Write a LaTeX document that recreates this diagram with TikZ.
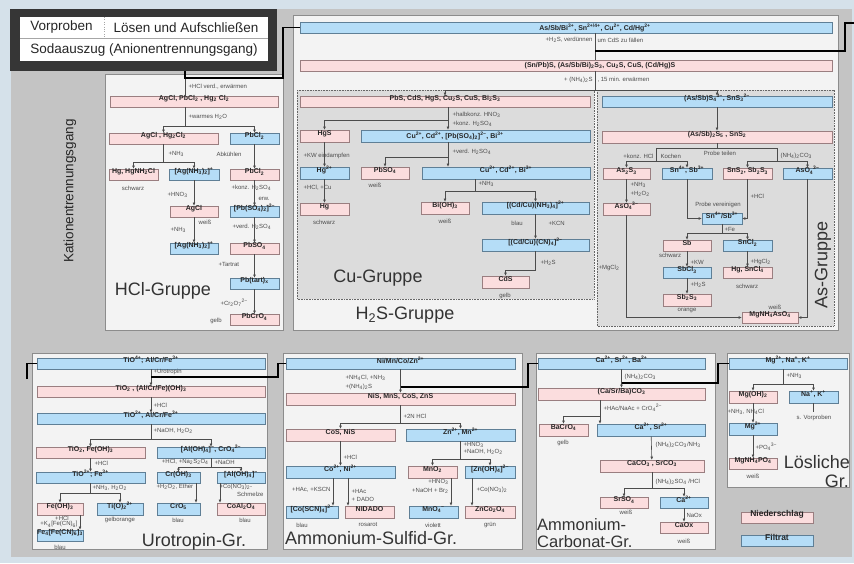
\documentclass[tikz,border=0pt]{standalone}
\usepackage{fontspec}
\setmainfont{Liberation Sans}
\usepackage{tikz}
\usetikzlibrary{arrows.meta,fit}

\definecolor{hgblau}{HTML}{D5E1EA}
\definecolor{grau}{HTML}{C4C4C4}
\definecolor{dunkel}{HTML}{363636}
\definecolor{tafelw}{HTML}{F3F3F3}
\definecolor{innenw}{HTML}{DCDCDC}
\definecolor{nsfill}{HTML}{FBDDDE}
\definecolor{nsrand}{HTML}{9A7E80}
\definecolor{fifill}{HTML}{B5DDF7}
\definecolor{firand}{HTML}{5F7F96}

\newcommand{\tief}[1]{\textsubscript{#1}}
\newcommand{\hoch}[1]{\textsuperscript{#1}}

\tikzset{
  fett/.style={font=\fontsize{7}{8}\selectfont\bfseries, text=black!85},
  kasten/.style={fett, inner sep=0pt, line width=0.8pt},
  ns/.style={kasten, draw=nsrand, fill=nsfill},
  fi/.style={kasten, draw=firand, fill=fifill},
  lbl/.style={font=\fontsize{6}{7}\selectfont, text=black!70, inner sep=0.3pt},
  gross/.style={font=\fontsize{18}{20}\selectfont, text=black!80, inner sep=0pt},
  kopf/.style={font=\fontsize{13.5}{15}\selectfont, text=black!85, inner sep=0pt},
  pf/.style={->, draw=black!70, line width=0.6pt},
  ln/.style={draw=black!70, line width=0.6pt},
  verb/.style={draw=black, line width=1.5pt},
  tafel/.style={draw=black!45, fill=tafelw, line width=0.8pt},
  innen/.style={draw=black!60, fill=innenw, line width=0.6pt, dash pattern=on 0.8pt off 0.8pt}
}

\begin{document}
\begin{tikzpicture}[x=1pt,y=-1pt,>={Triangle[length=3pt,width=2.4pt]}]
  \useasboundingbox (0,0) rectangle (854,563);
  \fill[hgblau] (0,0) rectangle (854,563);
  \fill[grau] (11,9) rectangle (852,557);

  % Kopf
  \fill[dunkel] (10,9) rectangle (277,71);
  \fill[white] (20,17) rectangle (268,61);
  \draw[black!35, line width=0.6pt] (20,38) -- (268,38);
  \draw[black!35, dotted] (104,17) -- (104,38);
  \node[kopf] (vorproben) at (61.5,27.5) {Vorproben};
  \node[kopf] (loesen) at (186,27.5) {Lösen und Aufschließen};
  \node[kopf] (soda) at (144,50) {Sodaauszug (Anionentrennungsgang)};
  \node[kopf, rotate=90] (kation) at (70,191) {Kationentrennungsgang};

  % Tafeln
  \draw[tafel] (105,74) rectangle (283,330);
  \draw[tafel] (293,15) rectangle (838,330);
  \draw[innen] (297,90) rectangle (594,299);
  \draw[innen] (597,90) rectangle (834,326);
  \draw[tafel] (32,353) rectangle (267,549);
  \draw[tafel] (283,353) rectangle (522,549);
  \draw[tafel] (536,353) rectangle (715,549);
  \draw[tafel] (727,353) rectangle (849,487);

  % HCl-Gruppe
  \node[ns, fit={(110,96) (278,107)}] (hcl0) {AgCl, PbCl\tief2 , Hg\tief2 Cl\tief2};
  \node[ns, fit={(109,133) (218,144)}] (hcl1) {AgCl , Hg\tief2Cl\tief2};
  \node[fi, fit={(230,133) (279,144)}] (hcl2) {PbCl\tief2};
  \node[ns, fit={(109,169) (158,180)}] (hcl3) {Hg, HgNH\tief2Cl};
  \node[fi, fit={(169,169) (219,180)}] (hcl4) {[Ag(NH\tief3)\tief2]\hoch+};
  \node[ns, fit={(230,169) (279,180)}] (hcl5) {PbCl\tief2};
  \node[ns, fit={(170,206) (218,217)}] (hcl6) {AgCl};
  \node[fi, fit={(230,206) (279,217)}] (hcl7) {[Pb(SO\tief4)\tief2]\hoch{2−}};
  \node[fi, fit={(170,243) (218,254)}] (hcl8) {[Ag(NH\tief3)\tief2]\hoch+};
  \node[ns, fit={(230,243) (279,254)}] (hcl9) {PbSO\tief4};
  \node[fi, fit={(230,278) (279,289)}] (hcl10) {Pb(tart)\tief x};
  \node[ns, fit={(230,314) (279,325)}] (hcl11) {PbCrO\tief4};

  \node[lbl, anchor=west] (t1) at (188,87) {+HCl verd., erwärmen};
  \node[lbl, anchor=west] (t2) at (188,117) {+warmes H\tief2O};
  \node[lbl, anchor=west] (t3) at (168,154) {+NH\tief3};
  \node[lbl, anchor=west] (t4) at (216,154) {Abkühlen};
  \node[lbl] (t5) at (133,188) {schwarz};
  \node[lbl, anchor=west] (t6) at (167,195) {+HNO\tief3};
  \node[lbl, anchor=west] (t7) at (231,188) {+konz. H\tief2SO\tief4};
  \node[lbl, anchor=west] (t8) at (258,199) {erw.};
  \node[lbl] (t9) at (205,222) {weiß};
  \node[lbl, anchor=west] (t10) at (170,230) {+NH\tief3};
  \node[lbl, anchor=west] (t11) at (232,227) {+verd. H\tief2SO\tief4};
  \node[lbl, anchor=west] (t12) at (218,264) {+Tartrat};
  \node[lbl, anchor=west] (t13) at (220,303) {+Cr\tief2O\tief7\hoch{2−}};
  \node[lbl] (t14) at (216,321) {gelb};
  \node[gross] (hclgr) at (163,291) {HCl-Gruppe};

  \coordinate (kopfaus) at (185,71);
  \coordinate (k1) at (283,78);
  \draw[ln] (kopfaus) -- (hcl0.north -| kopfaus);
  \coordinate (j1) at (185,126);
  \draw[ln] (hcl0.south -| j1) -- (j1);
  \draw[pf] (j1) -| (hcl1.north);
  \draw[pf] (j1) -| (hcl2.north);
  \coordinate (j2) at (163.5,162);
  \draw[ln] (hcl1.south) -- (j2);
  \draw[pf] (j2) -| (hcl3.north);
  \draw[pf] (j2) -| (hcl4.north);
  \draw[pf] (hcl2) -- (hcl5);
  \draw[pf] (hcl4) -- (hcl6);
  \draw[pf] (hcl6) -- (hcl8);
  \draw[pf] (hcl5) -- (hcl7);
  \draw[pf] (hcl7) -- (hcl9);
  \draw[pf] (hcl9) -- (hcl10);
  \draw[pf] (hcl10) -- (hcl11);

  % H2S-Gruppe
  \node[fi, fit={(300,22) (832,33)}] (h2s0) {};
  \node[fett] (h2s0t) at (595,27.5) {As/Sb/Bi\hoch{3+}, Sn\hoch{2+/4+}, Cu\hoch{2+}, Cd/Hg\hoch{2+}};
  \node[ns, fit={(300,60) (832,71)}] (h2s1) {};
  \node[fett] (h2s1t) at (600,65.5) {(Sn/Pb)S, (As/Sb/Bi)\tief2S\tief3, Cu\tief2S, CuS, (Cd/Hg)S};
  \node[lbl, anchor=east] (t15) at (593,40) {+H\tief2S, verdünnen};
  \node[lbl, anchor=west] (t16) at (597,40) {um CdS zu fällen};
  \node[lbl, anchor=east] (t17) at (593,80) {+ (NH\tief4)\tief2S};
  \node[lbl, anchor=west] (t18) at (597,80) {, 15 min. erwärmen};
  \coordinate (k2) at (595,51);
  \coordinate (k3) at (845,51);
  \coordinate (raus) at (854,23);
  \draw[ln] (h2s0.south -| k2) -- (h2s1.north -| k2);
  \draw[verb] (k2) -- (k3) |- (raus);
  \coordinate (k4) at (595,90);
  \draw[ln] (h2s1.south -| k4) -- (k4);
  \node[gross] (h2sgr) at (405,315) {H\tief2S-Gruppe};

  % Cu-Gruppe
  \node[ns, fit={(300,96) (590,107)}] (cu0) {PbS, CdS, HgS, Cu\tief2S, CuS, Bi\tief2S\tief3};
  \node[ns, fit={(300,130) (349,142)}] (cu1) {HgS};
  \node[fi, fit={(361,130) (590,142)}] (cu2) {};
  \node[fett] (cu2t) at (455,136) {Cu\hoch{2+}, Cd\hoch{2+}, [Pb(SO\tief4)\tief2]\hoch{2−}, Bi\hoch{3+}};
  \node[fi, fit={(300,167) (349,179)}] (cu4) {Hg\hoch{2+}};
  \node[ns, fit={(361,167) (409,179)}] (cu6) {PbSO\tief4};
  \node[fi, fit={(422,167) (590,179)}] (cu3) {Cu\hoch{2+}, Cd\hoch{2+}, Bi\hoch{3+}};
  \node[ns, fit={(300,203) (349,215)}] (cu5) {Hg};
  \node[ns, fit={(421,202) (469,214)}] (cu7) {Bi(OH)\tief3};
  \node[fi, fit={(482,202) (589,214)}] (cu8) {[(Cd/Cu)(NH\tief3)\tief4]\hoch{2+}};
  \node[fi, fit={(482,239) (589,251)}] (cu9) {[(Cd/Cu)(CN)\tief4]\hoch{2−}};
  \node[ns, fit={(482,276) (529,288)}] (cu10) {CdS};

  \node[lbl, anchor=west] (t19) at (452,115) {+halbkonz. HNO\tief3};
  \node[lbl, anchor=west] (t20) at (452,124) {+konz. H\tief2SO\tief4};
  \node[lbl, anchor=west] (t21) at (303,156) {+KW eindampfen};
  \node[lbl, anchor=west] (t22) at (303,188) {+HCl, +Cu};
  \node[lbl] (t23) at (324,222) {schwarz};
  \node[lbl, anchor=west] (t24) at (452,152) {+verd. H\tief2SO\tief4};
  \node[lbl] (t25) at (375,185) {weiß};
  \node[lbl, anchor=west] (t26) at (478,184) {+NH\tief3};
  \node[lbl] (t27) at (445,221) {weiß};
  \node[lbl] (t28) at (517,223) {blau};
  \node[lbl, anchor=west] (t29) at (548,223) {+KCN};
  \node[lbl, anchor=west] (t30) at (540,263) {+H\tief2S};
  \node[lbl] (t31) at (505,296) {gelb};
  \node[gross] (cugr) at (378,278) {Cu-Gruppe};

  \coordinate (j3) at (448,120);
  \draw[ln] (cu0.south -| j3) -- (j3);
  \draw[pf] (j3) -- (cu2.north -| j3);
  \draw[pf] (j3) -| (cu1.north);
  \draw[pf] (cu1) -- (cu4);
  \draw[pf] (cu4) -- (cu5);
  \coordinate (j4) at (448,157);
  \draw[pf] (cu2.south -| j4) -- (cu3.north -| j4);
  \draw[pf] (j4) -| (cu6.north);
  \coordinate (j5) at (475,191);
  \draw[ln] (cu3.south -| j5) -- (j5);
  \draw[pf] (j5) -| (cu7.north);
  \draw[pf] (j5) -| (cu8.north);
  \draw[pf] (cu8) -- (cu9);
  \coordinate (j6) at (535.5,270);
  \draw[ln] (cu9.south) -- (j6);
  \draw[pf] (j6) -| (cu10.north);

  % As-Gruppe
  \node[fi, fit={(602,96) (832,107)}] (as0) {(As/Sb)S\tief4\hoch{3−}, SnS\tief3\hoch{2−}};
  \node[ns, fit={(602,131) (832,143)}] (as1) {(As/Sb)\tief2S\tief5 , SnS\tief2};
  \node[ns, fit={(603,168) (650,179)}] (as2) {As\tief2S\tief3};
  \node[fi, fit={(662,168) (712,179)}] (as3) {Sn\hoch{4+}, Sb\hoch{3+}};
  \node[ns, fit={(723,168) (772,179)}] (as4) {SnS\tief2, Sb\tief2S\tief3};
  \node[fi, fit={(783,168) (832,179)}] (as5) {AsO\tief4\hoch{3−}};
  \node[ns, fit={(603,203) (650,215)}] (as6) {AsO\tief4\hoch{3−}};
  \node[fi, fit={(702,213) (742,224)}] (as7) {Sn\hoch{4+}/Sb\hoch{3+}};
  \node[ns, fit={(663,240) (711,251)}] (as8) {Sb};
  \node[fi, fit={(723,240) (772,251)}] (as9) {SnCl\tief2};
  \node[fi, fit={(663,267) (711,278)}] (as10) {SbCl\tief3};
  \node[ns, fit={(723,267) (772,278)}] (as11) {Hg, SnCl\tief4};
  \node[ns, fit={(663,294) (711,306)}] (as12) {Sb\tief2S\tief3};
  \node[ns, fit={(742,312) (798,323)}] (as13) {MgNH\tief4AsO\tief4};

  \node[lbl, anchor=east] (t32) at (654,156) {+konz. HCl};
  \node[lbl, anchor=west] (t33) at (660,156) {Kochen};
  \node[lbl] (t34) at (720,153) {Probe teilen};
  \node[lbl, anchor=west] (t35) at (780,156) {(NH\tief4)\tief2CO\tief3};
  \node[lbl, anchor=west] (t36) at (630,185) {+NH\tief3};
  \node[lbl, anchor=west] (t37) at (630,194) {+H\tief2O\tief2};
  \node[lbl] (t38) at (718,205) {Probe vereinigen};
  \node[lbl, anchor=west] (t39) at (750,196) {+HCl};
  \node[lbl, anchor=west] (t40) at (724,229) {+Fe};
  \node[lbl] (t41) at (670,255) {schwarz};
  \node[lbl, anchor=west] (t42) at (690,262) {+KW};
  \node[lbl, anchor=west] (t43) at (750,262) {+HgCl\tief2};
  \node[lbl] (t44) at (747,286) {schwarz};
  \node[lbl, anchor=west] (t45) at (690,285) {+H\tief2S};
  \node[lbl] (t46) at (687,311) {orange};
  \node[lbl, anchor=west] (t47) at (598,268) {+MgCl\tief2};
  \node[lbl] (t48) at (775,307) {weiß};
  \node[gross, rotate=90] (asgr) at (823,265) {As-Gruppe};

  \draw[pf] (as0) -- (as1);
  \coordinate (p1) at (656,148);
  \coordinate (p2) at (777,148);
  \coordinate (p3) at (656,161);
  \coordinate (p4) at (777,161);
  \draw[ln] (as1.south) -- (as1.south |- p1);
  \draw[ln] (p3) -- (p1) -- (p2) -- (p4);
  \draw[pf] (p3) -| (as2.north);
  \draw[pf] (p3) -| (as3.north);
  \draw[pf] (p4) -| (as4.north);
  \draw[pf] (p4) -| (as5.north);
  \draw[pf] (as2) -- (as6);
  \draw[pf] (as3.south) |- (as7.west);
  \draw[pf] (as4.south) |- (as7.east);
  \coordinate (j7) at (722,233);
  \draw[ln] (as7.south) -- (j7);
  \draw[pf] (j7) -| (as8.north);
  \draw[pf] (j7) -| (as9.north);
  \draw[pf] (as8) -- (as10);
  \draw[pf] (as10) -- (as12);
  \draw[pf] (as9) -- (as11);
  \draw[pf] (as6.south) |- (as13.west);
  \draw[pf] (as5.south) |- (as13.east);

  % Urotropin-Gruppe
  \node[fi, fit={(37,358) (265,369)}] (u0) {TiO\hoch{4+}; Al/Cr/Fe\hoch{3+}};
  \node[ns, fit={(37,386) (265,397)}] (u1) {TiO\tief2 , (Al/Cr/Fe)(OH)\tief3};
  \node[fi, fit={(37,413) (265,424)}] (u2) {TiO\hoch{2+}, Al/Cr/Fe\hoch{3+}};
  \node[ns, fit={(36,447) (145,458)}] (u3) {TiO\tief2, Fe(OH)\tief3};
  \node[fi, fit={(157,447) (265,458)}] (u4) {[Al(OH)\tief4]\hoch−, CrO\tief4\hoch{2−}};
  \node[fi, fit={(36,472) (145,483)}] (u5) {TiO\hoch{2+}; Fe\hoch{3+}};
  \node[fi, fit={(157,472) (200,483)}] (u6) {Cr(OH)\tief3};
  \node[fi, fit={(217,472) (265,483)}] (u7) {[Al(OH)\tief4]\hoch−};
  \node[fi, fit={(157,503) (200,515)}] (u8) {CrO\tief5};
  \node[ns, fit={(217,503) (265,515)}] (u9) {CoAl\tief2O\tief4};
  \node[ns, fit={(37,503) (83,515)}] (u10) {Fe(OH)\tief3};
  \node[fi, fit={(97,503) (143,515)}] (u11) {Ti(O)\tief2\hoch{2+}};
  \node[fi, fit={(37,530) (83,541)}] (u12) {Fe\tief4[Fe(CN)\tief6]\tief3};

  \node[lbl, anchor=west] (t49) at (153,372) {+Urotropin};
  \node[lbl, anchor=west] (t50) at (153,405) {+HCl};
  \node[lbl, anchor=west] (t51) at (153,431) {+NaOH, H\tief2O\tief2};
  \node[lbl, anchor=west] (t52) at (94,463) {+HCl};
  \node[lbl, anchor=east] (t53) at (209,462) {+HCl, +Na\tief2S\tief2O\tief4};
  \node[lbl, anchor=west] (t54) at (214,462) {+NaOH};
  \node[lbl, anchor=west] (t55) at (156,487) {+H\tief2O\tief2, Ether};
  \node[lbl] (t56) at (178,520) {blau};
  \node[lbl, anchor=west] (t57) at (219,487) {+Co(NO\tief3)\tief2-};
  \node[lbl, anchor=east] (t58) at (264,494) {Schmelze};
  \node[lbl] (t59) at (245,520) {blau};
  \node[lbl, anchor=west] (t60) at (92,488) {+NH\tief3, H\tief2O\tief2};
  \node[lbl] (t61) at (120,520) {gelborange};
  \node[lbl] (t62) at (62,518.5) {+HCl};
  \node[lbl] (t63) at (59,524.5) {+K\tief4[Fe(CN)\tief6]};
  \node[lbl] (t64) at (60,547) {blau};
  \node[gross] (urogr) at (194,542) {Urotropin-Gr.};

  \coordinate (rein) at (27,379);
  \draw[verb] (rein) |- (u0.west);
  \draw[pf] (u0) -- (u1);
  \coordinate (k5) at (151,377);
  \coordinate (k6) at (278,377);
  \draw[pf] (u1) -- (u2);
  \coordinate (j8) at (151,439);
  \draw[ln] (u2.south) -- (j8);
  \draw[pf] (j8) -| (u3.north);
  \draw[pf] (j8) -| (u4.north);
  \draw[pf] (u3) -- (u5);
  \coordinate (j9) at (211,467);
  \draw[ln] (u4.south) -- (j9);
  \draw[pf] (j9) -| (u6.north);
  \draw[pf] (j9) -| (u7.north);
  \coordinate (j10) at (196,483);
  \draw[pf] (j10) -- (j10 |- u8.north);
  \coordinate (j11) at (220,483);
  \draw[pf] (j11) -- (j11 |- u9.north);
  \coordinate (j12) at (90.5,493);
  \draw[ln] (u5.south) -- (j12);
  \draw[pf] (j12) -| (u10.north);
  \draw[pf] (j12) -| (u11.north);
  \coordinate (j13) at (80,515);
  \draw[pf] (j13) -- (j13 |- u12.north);

  % Ammonium-Sulfid-Gruppe
  \node[fi, fit={(286,358) (515,369)}] (a0) {Ni/Mn/Co/Zn\hoch{2+}};
  \node[ns, fit={(286,393) (515,405)}] (a1) {NiS, MnS, CoS, ZnS};
  \node[ns, fit={(286,429) (395,441)}] (a2) {CoS, NiS};
  \node[fi, fit={(406,429) (515,441)}] (a3) {Zn\hoch{2+}, Mn\hoch{2+}};
  \node[fi, fit={(286,466) (395,478)}] (a4) {Co\hoch{2+}, Ni\hoch{2+}};
  \node[ns, fit={(408,466) (457,478)}] (a5) {MnO\tief2};
  \node[fi, fit={(465,466) (515,478)}] (a6) {[Zn(OH)\tief4]\hoch{2−}};
  \node[fi, fit={(286,506) (338,518)}] (a7) {[Co(SCN)\tief4]\hoch{2−}};
  \node[ns, fit={(345,506) (394,518)}] (a8) {NIDADO};
  \node[fi, fit={(409,506) (458,518)}] (a9) {MnO\tief4\hoch−};
  \node[ns, fit={(465,506) (515,518)}] (a10) {ZnCo\tief2O\tief4};

  \node[lbl, anchor=west] (t65) at (345,378) {+NH\tief4Cl, +NH\tief3};
  \node[lbl, anchor=west] (t66) at (345,387) {+(NH\tief4)\tief2S};
  \node[lbl, anchor=west] (t67) at (403,416) {+2N HCl};
  \node[lbl, anchor=west] (t68) at (343,457) {+HCl};
  \node[lbl, anchor=west] (t69) at (463,445) {+HNO\tief3};
  \node[lbl, anchor=west] (t70) at (463,452) {+NaOH, H\tief2O\tief2};
  \node[lbl, anchor=east] (t71) at (331,490) {+HAc, +KSCN};
  \node[lbl, anchor=west] (t72) at (351,491) {+HAc};
  \node[lbl, anchor=west] (t73) at (351,499) {+ DADO};
  \node[lbl] (t74) at (302,525) {blau};
  \node[lbl] (t75) at (368,525) {rosarot};
  \node[lbl, anchor=east] (t76) at (449,482) {+HNO\tief3};
  \node[lbl, anchor=east] (t77) at (449,491) {+NaOH + Br\tief2};
  \node[lbl] (t78) at (433,525) {violett};
  \node[lbl, anchor=west] (t79) at (476,490) {+Co(NO\tief3)\tief2};
  \node[lbl] (t80) at (490,525) {grün};
  \node[gross, anchor=west] (ammgr) at (285,538) {Ammonium-Sulfid-Gr.};

  \draw[pf] (a0) -- (a1);
  \coordinate (k7) at (400.5,387);
  \coordinate (k8) at (528,387);
  \coordinate (j14) at (400.5,423);
  \draw[ln] (a1.south) -- (j14);
  \draw[pf] (j14) -| (a2.north);
  \draw[pf] (j14) -| (a3.north);
  \draw[pf] (a2) -- (a4);
  \coordinate (j15) at (460.5,459);
  \draw[ln] (a3.south) -- (j15);
  \draw[pf] (j15) -| (a5.north);
  \draw[pf] (j15) -| (a6.north);
  \coordinate (j16) at (333,478);
  \draw[pf] (j16) -- (j16 |- a7.north);
  \coordinate (j17) at (348,478);
  \draw[pf] (j17) -- (j17 |- a8.north);
  \coordinate (j18) at (451,478);
  \draw[pf] (j18) -- (j18 |- a9.north);
  \coordinate (j19) at (472,478);
  \draw[pf] (j19) -- (j19 |- a10.north);

  % Ammonium-Carbonat-Gruppe
  \node[fi, fit={(538,358) (705,369)}] (c0) {Ca\hoch{2+}, Sr\hoch{2+}, Ba\hoch{2+}};
  \node[ns, fit={(538,388) (705,400)}] (c1) {(Ca/Sr/Ba)CO\tief3};
  \node[ns, fit={(539,424) (588,436)}] (c2) {BaCrO\tief4};
  \node[fi, fit={(597,424) (705,436)}] (c3) {Ca\hoch{2+}, Sr\hoch{2+}};
  \node[ns, fit={(600,460) (704,472)}] (c4) {CaCO\tief3 , SrCO\tief3};
  \node[ns, fit={(600,497) (648,508)}] (c5) {SrSO\tief4};
  \node[fi, fit={(660,497) (708,508)}] (c6) {Ca\hoch{2+}};
  \node[ns, fit={(660,522) (708,533)}] (c7) {CaOx};

  \node[lbl, anchor=west] (t81) at (624,377) {(NH\tief4)\tief2CO\tief3};
  \node[lbl, anchor=west] (t82) at (603,408) {+HAc/NaAc + CrO\tief4\hoch{2−}};
  \node[lbl] (t83) at (563,443) {gelb};
  \node[lbl, anchor=west] (t84) at (655,445) {(NH\tief4)\tief2CO\tief3/NH\tief3};
  \node[lbl, anchor=west] (t85) at (655,482) {(NH\tief4)\tief2SO\tief4 /HCl};
  \node[lbl] (t86) at (626,512.5) {weiß};
  \node[lbl, anchor=west] (t87) at (686,515) {NaOx};
  \node[lbl] (t88) at (684,541) {weiß};
  \node[gross, anchor=west, font=\fontsize{16.5}{18}\selectfont] (carbgr1) at (537,524.5) {Ammonium-};
  \node[gross, anchor=west, font=\fontsize{16.5}{18}\selectfont] (carbgr2) at (537,542) {Carbonat-Gr.};

  \draw[pf] (c0) -- (c1);
  \coordinate (k9) at (621.5,383);
  \coordinate (k10) at (718,383);
  \coordinate (j20) at (600,416);
  \draw[pf] (c1.south -| j20) -- (c3.north -| j20);
  \draw[pf] (j20) -| (c2.north);
  \draw[pf] (c3) -- (c4);
  \coordinate (j21) at (652,488);
  \draw[ln] (c4.south) -- (j21);
  \draw[pf] (j21) -| (c5.north);
  \draw[pf] (j21) -| (c6.north);
  \draw[pf] (c6) -- (c7);

  % Loesliche Gruppe
  \node[fi, fit={(729,358) (847,369)}] (l0) {Mg\hoch{2+}, Na\hoch+, K\hoch+};
  \node[ns, fit={(729,391) (777,403)}] (l1) {Mg(OH)\tief2};
  \node[fi, fit={(789,391) (838,403)}] (l2) {Na\hoch+, K\hoch+};
  \node[fi, fit={(729,423) (777,435)}] (l3) {Mg\hoch{2+}};
  \node[ns, fit={(729,458) (777,469)}] (l4) {MgNH\tief4PO\tief4};

  \node[lbl, anchor=west] (t89) at (786,376) {+NH\tief3};
  \node[lbl, anchor=west] (t90) at (727,412) {+NH\tief3, NH\tief4Cl};
  \node[lbl] (t91) at (814,418) {s. Vorproben};
  \node[lbl, anchor=west] (t92) at (755,447) {+PO\tief4\hoch{3−}};
  \node[lbl] (t93) at (753,476) {weiß};
  \node[gross, anchor=east] (loesgr1) at (850,462) {Lösliche};
  \node[gross, anchor=east] (loesgr2) at (849,481) {Gr.};

  \coordinate (j22) at (783,384);
  \draw[ln] (l0.south -| j22) -- (j22);
  \draw[pf] (j22) -| (l1.north);
  \draw[pf] (j22) -| (l2.north);
  \coordinate (sv) at (813.5,412);
  \draw[ln] (l2.south) -- (sv);
  \draw[pf] (l1) -- (l3);
  \draw[pf] (l3) -- (l4);

  % Legende
  \node[ns, fit={(741,512) (813,523)}, font=\fontsize{8.5}{9}\selectfont\bfseries] (leg1) {Niederschlag};
  \node[fi, fit={(741,535) (813,546)}, font=\fontsize{8.5}{9}\selectfont\bfseries] (leg2) {Filtrat};

  % Verbindungen zwischen den Gruppen
  \draw[verb] (kopfaus) |- (k1) |- (h2s0.west);
  \draw[pf] (k4) -| (cu0.north);
  \draw[pf] (k4) -| (as0.north);
  \draw[verb] (k5) -- (k6) |- (a0.west);
  \draw[verb] (k7) -- (k8) |- (c0.west);
  \draw[verb] (k9) -- (k10) |- (l0.west);
\end{tikzpicture}
\end{document}
